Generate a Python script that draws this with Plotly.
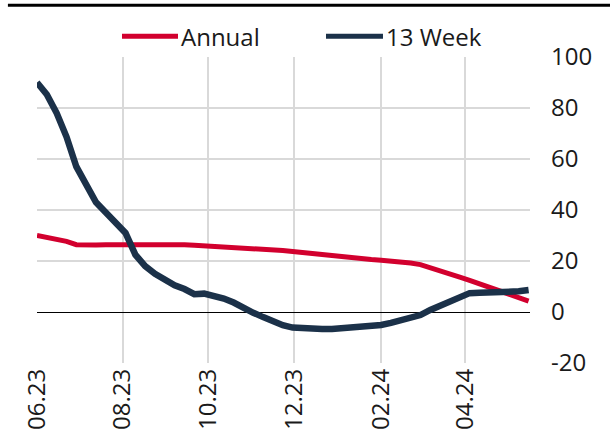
import datetime as dt
import plotly.graph_objects as go

start = dt.date(2023, 6, 1)
annual = [30, 29.2, 28.5, 27.7, 26.4, 26.2, 26.3, 26.4, 26.4, 26.4,
          26.5, 26.6, 26.7, 26.6, 26.5, 26.4, 26.2, 26.0, 25.8, 25.5,
          25.3, 25.2, 25.0, 24.8, 24.5, 24.1, 23.7, 23.3, 22.8, 22.3,
          21.8, 21.5, 21.2, 20.9, 20.6, 20.3, 20.0, 19.7, 19.2, 18.6,
          17.5, 16.3, 15.0, 13.7, 12.4, 11.0, 9.8, 8.6, 7.2, 5.7, 4.3]
week13 = [90, 85.3, 78, 68.7, 57, 50.5, 43, 39, 35, 31,
          22.5, 18, 15, 12.5, 10.5, 9, 7, 7.2, 6.5, 5.3,
          3.7, 1.5, -0.3, -2.0, -3.7, -5.2, -6.1, -6.5, -6.6, -6.7,
          -6.7, -6.5, -6.1, -5.8, -5.5, -5.1, -4.3, -3.3, -2.3, -1.2,
          0.8, 2.5, 4.5, 6.3, 7.4, 7.5, 7.5, 7.5, 7.8, 8.1, 8.6]
dates = [start + dt.timedelta(days=7 * i) for i in range(len(annual))]

tick_vals = ["2023-06-01", "2023-08-01", "2023-10-01", "2023-12-01", "2024-02-01", "2024-04-01"]
tick_text = ["06.23", "08.23", "10.23", "12.23", "02.24", "04.24"]
y_ticks = [-20, 0, 20, 40, 60, 80, 100]
y_text = ["-20", "0", "20", "40", "60", "80", "100"]
series_names = ["Annual", "13 Week"]

RED = "#D2002E"
NAVY = "#1B3149"
FONT = "Open Sans"
FS = 24

fig = go.Figure()
fig.add_trace(go.Scatter(x=dates, y=annual, mode="lines", name=series_names[0],
                         line=dict(color=RED, width=5), showlegend=False))
fig.add_trace(go.Scatter(x=dates, y=week13, mode="lines", name=series_names[1],
                         line=dict(color=NAVY, width=6.5), showlegend=False))

# manual legend (paper coordinates)
LEG_Y = 1.0676
legend_items = [(series_names[0], RED, 0.1724, 0.286), (series_names[1], NAVY, 0.5862, 0.7018)]
shapes = [dict(type="line", xref="paper", yref="paper",
               x0=-0.059, x1=1.17, y0=1.169, y1=1.169,
               line=dict(color="black", width=3))]
annotations = []
for name, col, x0, x1 in legend_items:
    shapes.append(dict(type="line", xref="paper", yref="paper", x0=x0, x1=x1,
                       y0=LEG_Y, y1=LEG_Y, line=dict(color=col, width=5)))
    annotations.append(dict(xref="paper", yref="paper", x=x1 + 0.002, y=LEG_Y,
                            xanchor="left", yanchor="middle", text=name, showarrow=False,
                            font=dict(family=FONT, size=FS, color="#1a1a1a")))

fig.update_layout(
    width=610, height=446,
    margin=dict(l=37, r=80, t=57, b=83, autoexpand=False),
    paper_bgcolor="white", plot_bgcolor="white",
    font=dict(family=FONT, size=FS, color="#1a1a1a"),
    showlegend=False,
    xaxis=dict(type="date", range=["2023-06-01", "2024-05-17"],
               tickvals=tick_vals, ticktext=tick_text, tickangle=-90,
               showgrid=True, gridcolor="#D9D9D9", gridwidth=1.5,
               zeroline=False, showline=False, ticks="", automargin=False),
    yaxis=dict(side="right", range=[-20, 100], tickvals=y_ticks, ticktext=y_text,
               showgrid=True, gridcolor="#D9D9D9", gridwidth=1.5,
               zeroline=True, zerolinecolor="#000000", zerolinewidth=1,
               showline=False, ticks="", ticklabelstandoff=20, automargin=False),
    shapes=shapes,
    annotations=annotations,
)

fig.write_html("out.html", config={"displayModeBar": False},
               post_script="document.body.style.margin='0px';")
